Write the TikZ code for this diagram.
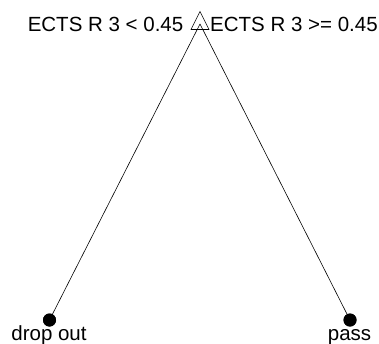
\documentclass[tikz,border=0pt]{standalone}
\usepackage{fontspec}
\setmainfont{Liberation Sans}
\begin{document}
\begin{tikzpicture}[x=1pt,y=-1pt,
  lbl/.style={inner sep=0pt,font=\fontsize{20.5}{24}\selectfont},
  leaf/.style={circle,fill=black,inner sep=0pt,minimum size=13pt},
  edge/.style={draw=black,line width=0.6pt}]
\useasboundingbox (0,0) rectangle (379,343);
\coordinate (root) at (200,24);
\coordinate (tA) at (200,11.5);
\coordinate (tB) at (191,29.5);
\coordinate (tC) at (209,29.5);
\draw[edge,line join=miter] (tA) -- (tB) -- (tC) -- cycle;
\node[leaf] (l) at (49.5,320) {};
\node[leaf] (r) at (350,320) {};
\draw[edge] (root) -- (l.center);
\draw[edge] (root) -- (r.center);
\node[leaf] at (l) {};
\node[leaf] at (r) {};
\node[lbl,anchor=base east] (tl) at (183.5,31) {ECTS R 3 < 0.45};
\node[lbl,anchor=base west] (tr) at (210,31) {ECTS R 3 >= 0.45};
\node[lbl,anchor=base] (bl) at (49,340) {drop out};
\node[lbl,anchor=base] (br) at (349.5,340) {pass};
\end{tikzpicture}
\end{document}
